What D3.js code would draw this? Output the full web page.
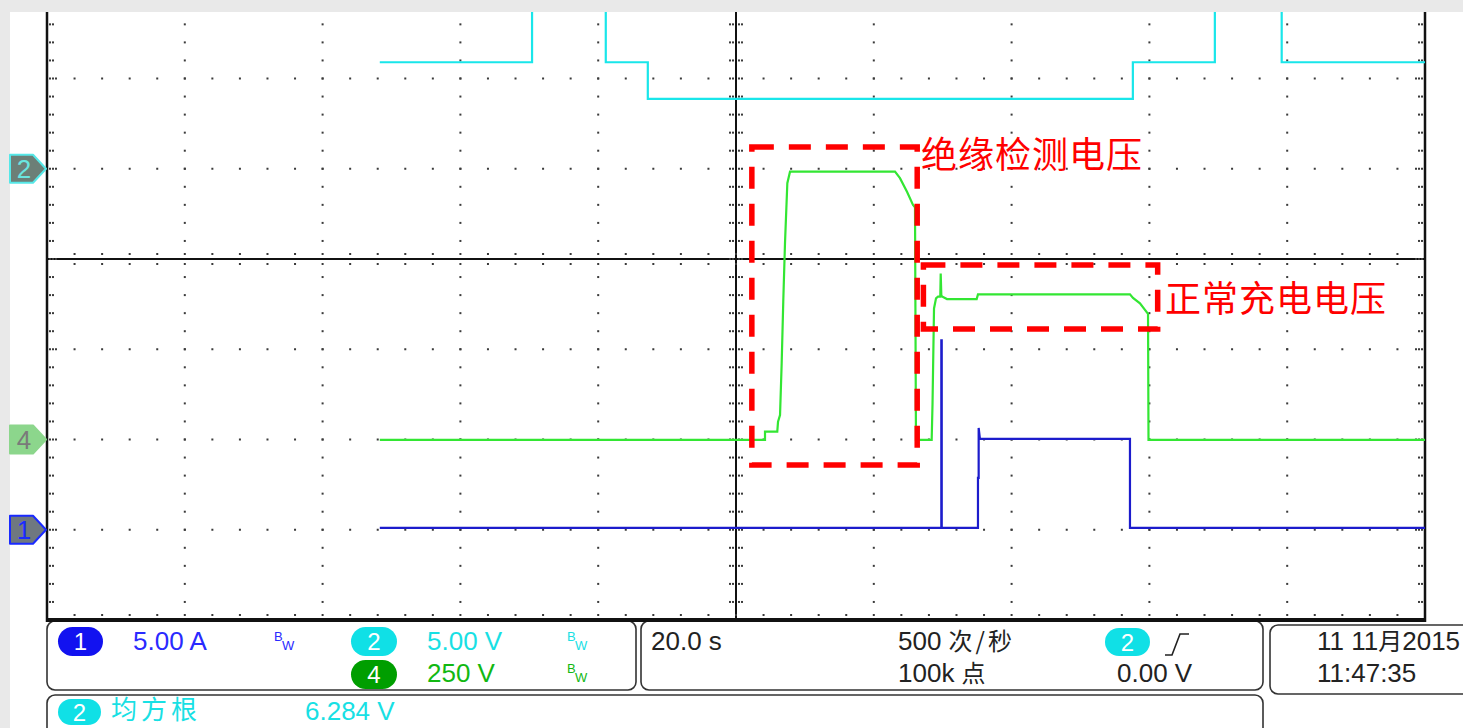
<!DOCTYPE html>
<html><head><meta charset="utf-8">
<script src="https://cdn.jsdelivr.net/npm/d3@7"></script>
<style>html,body{margin:0;padding:0;background:#e9e9e9;overflow:hidden}</style>
</head><body><svg id="c" width="1463" height="728"></svg>
<script>
// ---------------- data ----------------
// time in seconds relative to trigger (20 s/div)
const cyanTime  = [-51.7, -29.6, -29.6, -18.9, -18.9, -12.8, -12.8, 57.6, 57.6, 69.5, 69.5, 79.2, 79.2, 100];
const cyanValue = [5.9, 5.9, 12, 12, 5.9, 5.9, 3.87, 3.87, 5.9, 5.9, 12, 12, 5.9, 5.9]; // V (ch2, 5 V/div)

const greenTime  = [-51.7, 4.21, 4.21, 5.99, 6.1, 6.39, 6.63, 6.86, 7.11, 7.45, 7.84, 23.08, 23.8, 24.82, 25.69, 25.98, 26.12,
                    28.40, 28.52, 28.74, 29.03, 29.32, 29.65, 29.71, 29.80, 29.90, 30.62, 34.93, 35.12, 57.18, 57.62, 58.63, 59.80, 59.87, 100];
const greenValue = [-1, -1, 22, 22, 49, 68, 211, 382, 543, 710, 742, 742, 724, 686, 650, 643, -1,
                    -1, 96, 363, 391, 396, 396, 460, 400, 396, 389, 389, 402, 402, 392, 377, 348, -1, -1]; // V (ch4, 250 V/div)

const blueTime  = [-51.7, 29.80, 29.80, 29.86, 29.86, 35.12, 35.12, 35.22, 35.22, 35.40, 57.18, 57.18, 100];
const blueValue = [0.1, 0.1, 10.5, 10.5, 0.1, 0.1, 2.87, 2.87, 5.64, 5.03, 5.03, 0.1, 0.1]; // A (ch1, 5 A/div)

const channels = {
  ch1: {scale: 5,   offset: -3, color: "#1c1ccc"},
  ch2: {scale: 5,   offset: 1,  color: "#19e6ea"},
  ch4: {scale: 250, offset: -2, color: "#33e633"}
};

const annotations = [
  {label: "绝缘检测电压", t0: 2.3,  t1: 26.3, d0: 1.241,  d1: -2.283},
  {label: "正常充电电压", t0: 27.2, t1: 61.2, d0: -0.066, d1: -0.776}
];

const infoCh1 = "5.00 A", infoCh2 = "5.00 V", infoCh4 = "250 V";
const timebase = "20.0 s", sampleRate = ["500 ", "次/秒"], points = ["100k ", "点"];
const trigLevel = "0.00 V", dateText = ["11 11", "月", "2015"], timeText = "11:47:35";
const measName = "均方根", measValue = "6.284 V";

// ---------------- drawing ----------------
const svg = d3.select("#c");
const L = 47, R = 1425, TOP = 12, BOT = 620;
const x = d3.scaleLinear().domain([-100, 100]).range([L, R]);
const yDiv = d3.scaleLinear().domain([-4, 4]).range([BOT, 259 - 4 * 90.25]);

svg.append("rect").attr("x", 10).attr("y", TOP).attr("width", 1453).attr("height", 728 - TOP).attr("fill", "#fff");

const g = svg.append("g");
const dot = (px, py) => g.append("rect").attr("x", px - 1).attr("y", py - 1).attr("width", 2).attr("height", 2).attr("fill", "#3a3a3a");

const minorX = d3.range(-100, 100.001, 4);
const majorX = d3.range(-100, 100.001, 20);
const minorY = d3.range(-4, 4.001, 0.2);
const majorY = d3.range(-4, 4.001, 1);
const inY = py => py > TOP + 2 && py < BOT - 2;

// vertical major dotted lines
majorX.filter(t => Math.abs(t) > 1e-6 && Math.abs(Math.abs(t) - 100) > 1e-6).forEach(t => {
  minorY.forEach(d => { const py = yDiv(d); if (inY(py)) dot(x(t), py); });
});
// horizontal major dotted lines
majorY.filter(d => Math.abs(d) > 1e-6 && d > -4).forEach(d => {
  const py = yDiv(d); if (!inY(py)) return;
  minorX.filter(t => Math.abs(Math.abs(t) - 100) > 1e-6).forEach(t => dot(x(t), py));
});
// center axes
g.append("line").attr("x1", x(0)).attr("x2", x(0)).attr("y1", TOP).attr("y2", BOT).attr("stroke", "#111").attr("stroke-width", 2);
g.append("line").attr("x1", L).attr("x2", R).attr("y1", yDiv(0)).attr("y2", yDiv(0)).attr("stroke", "#111").attr("stroke-width", 2);
minorY.forEach(d => { const py = yDiv(d); if (inY(py)) [-6, -3, 3, 6].forEach(o => dot(x(0) + o, py)); });
minorX.forEach(t => { [-5, 5].forEach(o => dot(x(t), yDiv(0) + o)); });
// border ticks
minorY.forEach((d, i) => {
  const py = yDiv(d); if (!inY(py)) return;
  const n = (i % 5 === 0) ? 3 : 2;
  for (let k = 0; k < n; k++) { dot(L + 3 + k * 3, py); dot(R - 3 - k * 3, py); }
});
minorX.forEach(t => dot(x(t), BOT - 5));
// borders
g.append("line").attr("x1", L).attr("x2", L).attr("y1", TOP).attr("y2", BOT + 2).attr("stroke", "#111").attr("stroke-width", 2.5);
g.append("line").attr("x1", R).attr("x2", R).attr("y1", TOP).attr("y2", BOT + 2).attr("stroke", "#111").attr("stroke-width", 2.5);

// traces
svg.append("clipPath").attr("id", "clip").append("rect").attr("x", L).attr("y", TOP).attr("width", R - L).attr("height", BOT - TOP);
const tr = svg.append("g").attr("clip-path", "url(#clip)");
function trace(times, vals, ch) {
  const c = channels[ch];
  const line = d3.line().x(d => x(d[0])).y(d => yDiv(d[1] / c.scale + c.offset));
  tr.append("path").datum(d3.zip(times, vals)).attr("d", line)
    .attr("fill", "none").attr("stroke", c.color).attr("stroke-width", 2.2).attr("stroke-linejoin", "miter");
}
trace(cyanTime, cyanValue, "ch2");
trace(greenTime, greenValue, "ch4");
trace(blueTime, blueValue, "ch1");

// annotations
annotations.forEach(a => {
  svg.append("rect").attr("x", x(a.t0)).attr("y", yDiv(a.d0))
    .attr("width", x(a.t1) - x(a.t0)).attr("height", yDiv(a.d1) - yDiv(a.d0))
    .attr("fill", "none").attr("stroke", "#ff0000").attr("stroke-width", 5.5).attr("stroke-dasharray", "22,15");
});
svg.append("text").attr("x", 921).attr("y", 168).text(annotations[0].label)
  .attr("font-family", "'Noto Sans CJK SC'").attr("font-size", 36).attr("letter-spacing", 1).attr("fill", "#ff0000");
svg.append("text").attr("x", 1165).attr("y", 312).text(annotations[1].label)
  .attr("font-family", "'Noto Sans CJK SC'").attr("font-size", 36).attr("letter-spacing", 1).attr("fill", "#ff0000");

// left channel markers
function marker(cy, fill, stroke, txt, txtColor) {
  svg.append("path").attr("d", `M10,${cy-14} L33,${cy-14} L46,${cy} L33,${cy+14} L10,${cy+14} Z`)
    .attr("fill", fill).attr("stroke", stroke).attr("stroke-width", 2).attr("stroke-linejoin", "round");
  svg.append("text").attr("x", 24).attr("y", cy + 9).attr("text-anchor", "middle").text(txt)
    .attr("font-family", "'Liberation Sans'").attr("font-size", 26).attr("fill", txtColor);
}
marker(yDiv(channels.ch2.offset), "#6c7f77", "#56e8e8", "2", "#6ae6e0");
marker(yDiv(channels.ch4.offset), "#8cd68c", "#8cd68c", "4", "#7a7a7a");
marker(yDiv(channels.ch1.offset), "#6f7880", "#1a2aff", "1", "#1a2aff");

// info panels
const pan = svg.append("g").attr("fill", "none").attr("stroke", "#333").attr("stroke-width", 1.6);
pan.append("rect").attr("x", 47).attr("y", 621).attr("width", 589).attr("height", 69).attr("rx", 8);
pan.append("rect").attr("x", 641).attr("y", 621).attr("width", 622).attr("height", 69).attr("rx", 8);
pan.append("rect").attr("x", 1270).attr("y", 625).attr("width", 220).attr("height", 69).attr("rx", 8);
pan.append("rect").attr("x", 47).attr("y", 695).attr("width", 1216).attr("height", 60).attr("rx", 8);
svg.append("line").attr("x1", L - 1).attr("x2", R + 1).attr("y1", BOT).attr("y2", BOT).attr("stroke", "#111").attr("stroke-width", 4);

function pill(px, py, w, h, fill, txt) {
  svg.append("rect").attr("x", px).attr("y", py).attr("width", w).attr("height", h).attr("rx", h / 2).attr("fill", fill);
  svg.append("text").attr("x", px + w / 2).attr("y", py + h / 2 + 8.5).attr("text-anchor", "middle").text(txt)
    .attr("font-family", "'Liberation Sans'").attr("font-size", 24).attr("fill", "#fff");
}
function txt(px, py, s, color, size, family) {
  return svg.append("text").attr("x", px).attr("y", py).text(s).attr("fill", color)
    .attr("font-family", family || "'Liberation Sans', 'Noto Sans CJK SC'").attr("font-size", size || 26);
}
function bw(px, py, color) {
  txt(px, py, "B", color, 13);
  txt(px + 8, py + 9, "W", color, 13);
}
const BLUE = "#2a2aff", CYAN = "#18e0e4", GREEN = "#12b812", DARK = "#222";
pill(58, 627, 45, 29, "#1212f0", "1");
txt(133, 650, infoCh1, BLUE);
bw(274, 641, BLUE);
pill(351, 627, 46, 29, "#10e0e6", "2");
txt(427, 650, infoCh2, CYAN);
bw(567, 641, CYAN);
pill(351, 660, 46, 29, "#009e00", "4");
txt(427, 682, infoCh4, GREEN);
bw(567, 673, GREEN);

txt(651, 650, timebase, DARK);
const sr = txt(898, 650, sampleRate[0], DARK);
sr.append("tspan").text(sampleRate[1]).attr("font-family", "'Noto Sans CJK SC'").attr("font-size", 24).attr("letter-spacing", 3);
const pt = txt(898, 682, points[0], DARK);
pt.append("tspan").text(points[1]).attr("font-family", "'Noto Sans CJK SC'").attr("font-size", 24);
pill(1105, 628, 45, 28, "#10e0e6", "2");
svg.append("path").attr("d", "M1165,655 L1172,655 L1180,634 L1189,634").attr("fill", "none").attr("stroke", DARK).attr("stroke-width", 1.6);
txt(1117, 682, trigLevel, DARK);

const dt = txt(1317, 650, dateText[0], DARK);
dt.append("tspan").text(dateText[1]).attr("font-family", "'Noto Sans CJK SC'").attr("font-size", 24);
dt.append("tspan").text(dateText[2]);
txt(1317, 682, timeText, DARK);

pill(58, 699, 43, 26, "#10e0e6", "2");
txt(111, 719, measName, CYAN, 26, "'Noto Sans CJK SC'").attr("letter-spacing", 4);
txt(305, 720, measValue, CYAN, 26);
</script>
</body></html>
